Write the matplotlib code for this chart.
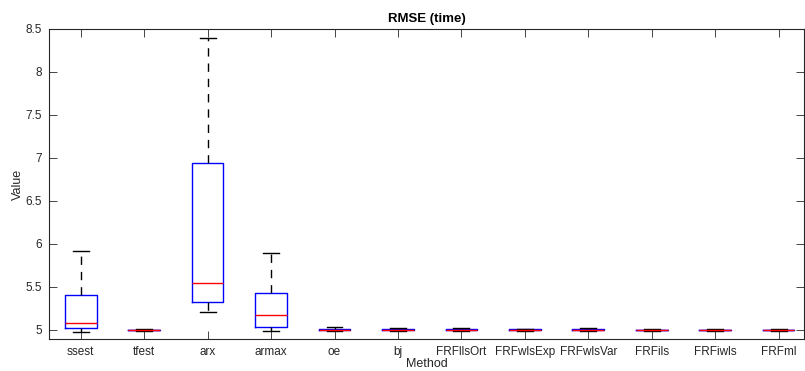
import matplotlib
matplotlib.use("Agg")
import matplotlib.pyplot as plt

methods = ["ssest", "tfest", "arx", "armax", "oe", "bj", "FRFllsOrt", "FRFwlsExp",
           "FRFwlsVar", "FRFils", "FRFiwls", "FRFml"]
whislo = [4.98, 4.985, 5.21, 4.985, 4.985, 4.985, 4.985, 4.985, 4.985, 4.985, 4.985, 4.985]
q1     = [5.02, 4.995, 5.33, 5.035, 4.995, 4.995, 4.995, 4.995, 4.995, 4.995, 4.995, 4.995]
med    = [5.085, 5.0, 5.55, 5.17, 5.0, 5.0, 5.0, 5.0, 5.0, 5.0, 5.0, 5.0]
q3     = [5.41, 5.005, 6.94, 5.43, 5.008, 5.008, 5.008, 5.008, 5.008, 5.005, 5.005, 5.005]
whishi = [5.915, 5.012, 8.39, 5.89, 5.03, 5.018, 5.02, 5.015, 5.025, 5.012, 5.012, 5.012]

plt.rcParams['font.family'] = ['Liberation Sans', 'DejaVu Sans']
fig = plt.figure(figsize=(8.05, 3.71), dpi=100)
ax = fig.add_axes([49/805, 1 - 339/371, (804-49)/805, (339-29)/371])

stats = []
for i in range(len(methods)):
    stats.append(dict(whislo=whislo[i], q1=q1[i], med=med[i], q3=q3[i], whishi=whishi[i], fliers=[]))

ax.bxp(stats, positions=range(1, len(methods)+1), widths=0.5, showfliers=False,
       boxprops=dict(color=(0, 0, 1), linewidth=1.0),
       medianprops=dict(color=(1, 0, 0), linewidth=1.0),
       whiskerprops=dict(color='black', linestyle=(0, (6, 5)), linewidth=1.0),
       capprops=dict(color='black', linewidth=1.0))

ax.set_xlim(0.5, 12.4)
ax.set_ylim(4.895, 8.5)
ax.set_xticks(range(1, len(methods)+1))
ax.set_xticklabels(methods)
ax.set_yticks([5, 5.5, 6, 6.5, 7, 7.5, 8, 8.5])
ax.set_yticklabels(["5", "5.5", "6", "6.5", "7", "7.5", "8", "8.5"])
gray = '#262626'
ax.tick_params(direction='in', top=True, right=True, length=6, width=0.6,
               labelsize=8.5, colors=gray, labelcolor=gray, pad=5)
for s in ax.spines.values():
    s.set_color(gray)
    s.set_linewidth(0.8)
ax.set_title("RMSE (time)", fontsize=9.5, fontweight='bold', pad=5)
ax.set_xlabel("Method", fontsize=9, color=gray, labelpad=0)
ax.set_ylabel("Value", fontsize=9, color=gray, labelpad=1)
fig.savefig("out.png", dpi=100)
